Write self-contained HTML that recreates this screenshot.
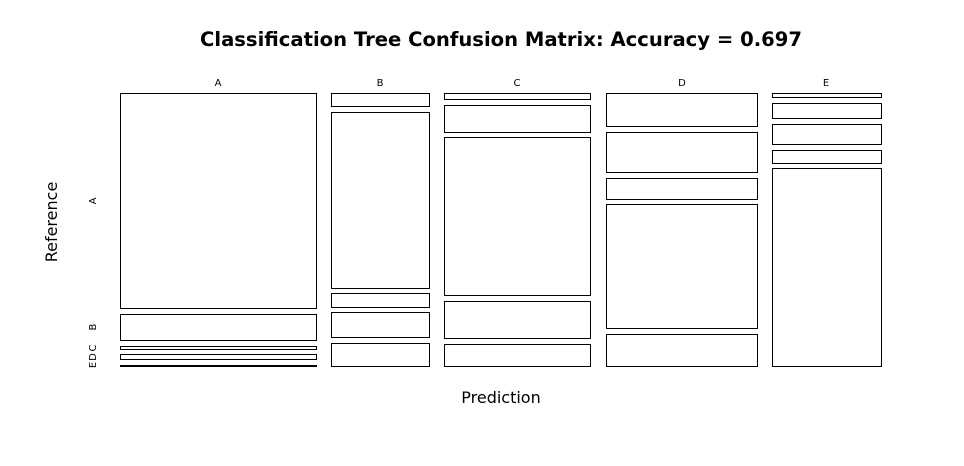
<!DOCTYPE html>
<html><head><meta charset="utf-8"><style>
html,body{margin:0;padding:0;background:#fff;}
svg{display:block;}
</style></head><body>
<svg width="964" height="466" xmlns="http://www.w3.org/2000/svg" font-family="DejaVu Sans, Liberation Sans, sans-serif">
<rect width="964" height="466" fill="#fff"/>
<text x="501" y="46" text-anchor="middle" font-size="19.5" font-weight="bold" textLength="602" lengthAdjust="spacingAndGlyphs">Classification Tree Confusion Matrix: Accuracy = 0.697</text>
<g font-size="10" text-anchor="middle">
<text x="218" y="86">A</text>
<text x="380" y="86">B</text>
<text x="517" y="86">C</text>
<text x="682" y="86">D</text>
<text x="826" y="86">E</text>
</g>
<text x="501" y="403" text-anchor="middle" font-size="16">Prediction</text>
<text transform="translate(57,222) rotate(-90)" text-anchor="middle" font-size="16">Reference</text>
<g font-size="10" text-anchor="middle">
<text transform="translate(96,201) rotate(-90)">A</text>
<text transform="translate(96,327) rotate(-90)">B</text>
<text transform="translate(96,348) rotate(-90)">C</text>
<text transform="translate(96,357) rotate(-90)">D</text>
<text transform="translate(96,365) rotate(-90)">E</text>
</g>
<g fill="#fff" stroke="#000" stroke-width="1">
<rect x="120.5" y="93.5" width="196" height="215"/>
<rect x="120.5" y="314.5" width="196" height="26"/>
<rect x="120.5" y="346.5" width="196" height="3"/>
<rect x="120.5" y="354.5" width="196" height="5"/>
<rect x="120.5" y="365.5" width="196" height="1"/>

<rect x="331.5" y="93.5" width="98" height="13"/>
<rect x="331.5" y="112.5" width="98" height="176"/>
<rect x="331.5" y="293.5" width="98" height="14"/>
<rect x="331.5" y="312.5" width="98" height="25"/>
<rect x="331.5" y="343.5" width="98" height="23"/>

<rect x="444.5" y="93.5" width="146" height="6"/>
<rect x="444.5" y="105.5" width="146" height="27"/>
<rect x="444.5" y="137.5" width="146" height="158"/>
<rect x="444.5" y="301.5" width="146" height="37"/>
<rect x="444.5" y="344.5" width="146" height="22"/>

<rect x="606.5" y="93.5" width="151" height="33"/>
<rect x="606.5" y="132.5" width="151" height="40"/>
<rect x="606.5" y="178.5" width="151" height="21"/>
<rect x="606.5" y="204.5" width="151" height="124"/>
<rect x="606.5" y="334.5" width="151" height="32"/>

<rect x="772.5" y="93.5" width="109" height="4"/>
<rect x="772.5" y="103.5" width="109" height="15"/>
<rect x="772.5" y="124.5" width="109" height="20"/>
<rect x="772.5" y="150.5" width="109" height="13"/>
<rect x="772.5" y="168.5" width="109" height="198"/>
</g>
</svg>
</body></html>
